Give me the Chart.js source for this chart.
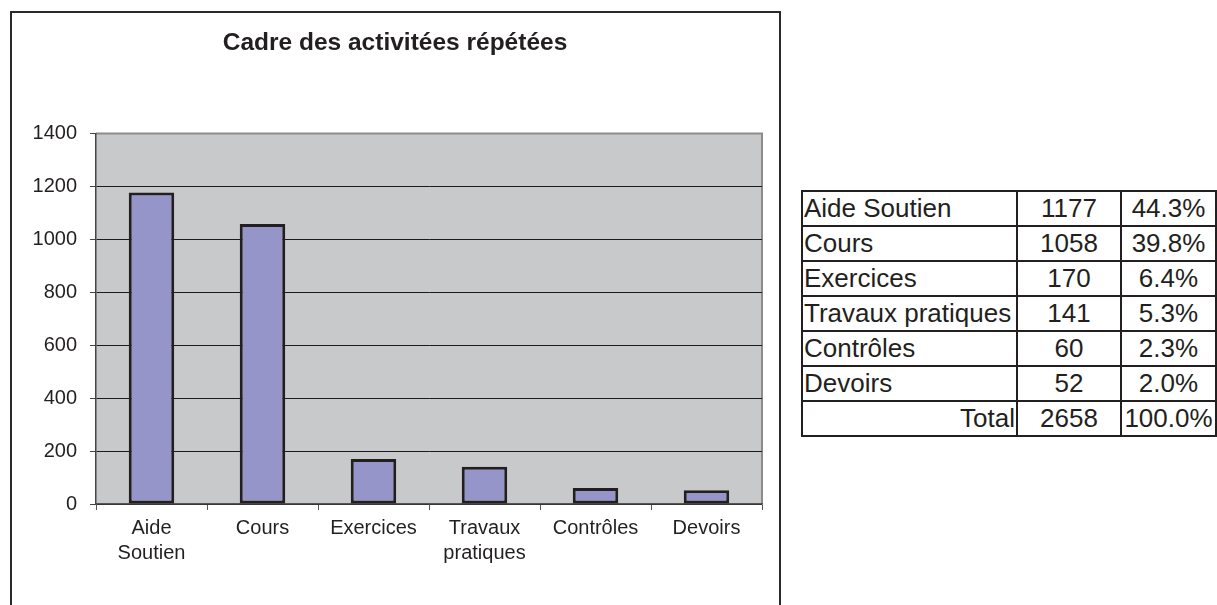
<!DOCTYPE html>
<html lang="fr">
<head>
<meta charset="utf-8">
<title>Cadre des activitées répétées</title>
<script src="https://cdn.jsdelivr.net/npm/chart.js@4.4.1/dist/chart.umd.min.js"></script>
<style>
    html, body { margin: 0; padding: 0; background: #fff; width: 1217px; height: 605px; overflow: hidden; }
    body { position: relative; font-family: "Liberation Sans", Arial, sans-serif; color: #231f20; }
    #chartBox { position: absolute; left: 0; top: 0; width: 790px; height: 605px; }
    #frame { position: absolute; left: 10px; top: 11px; width: 767px; height: 620px; border: 2px solid #2a2a2a; pointer-events: none; }
    #recap { position: absolute; left: 801px; top: 190px; border-collapse: collapse; font-size: 26px; }
    #recap td { border: 2px solid #231f20; height: 33px; padding: 0 1px; line-height: 33px; white-space: nowrap; }
    #recap td.lbl { width: 211px; text-align: left; }
    #recap td.num { width: 100px; text-align: center; }
    #recap td.pct { width: 91px; text-align: center; }
    #recap td.total { text-align: right; }
</style>
</head>
<body>
<div id="chartBox"><canvas id="activityChart" width="790" height="605"></canvas></div>
<div id="frame"></div>
<table id="recap"><tbody></tbody></table>
<script>
const categories = [['Aide', 'Soutien'], 'Cours', 'Exercices', ['Travaux', 'pratiques'], 'Contrôles', 'Devoirs'];
const tableLabels = ['Aide Soutien', 'Cours', 'Exercices', 'Travaux pratiques', 'Contrôles', 'Devoirs'];
const counts = [1177, 1058, 170, 141, 60, 52];
const percents = ['44.3%', '39.8%', '6.4%', '5.3%', '2.3%', '2.0%'];
const totalCount = 2658;
const totalPercent = '100.0%';
const yTicks = [0, 200, 400, 600, 800, 1000, 1200, 1400];

// tableau récapitulatif
const tbody = document.querySelector('#recap tbody');
tableLabels.forEach((label, i) => {
    const tr = document.createElement('tr');
    tr.innerHTML = `<td class="lbl">${label}</td><td class="num">${counts[i]}</td><td class="pct">${percents[i]}</td>`;
    tbody.appendChild(tr);
});
const totalRow = document.createElement('tr');
totalRow.innerHTML = `<td class="lbl total">Total</td><td class="num">${totalCount}</td><td class="pct">${totalPercent}</td>`;
tbody.appendChild(totalRow);

const plotBackground = {
    id: 'plotBackground',
    beforeDraw(chart) {
        const { ctx, chartArea: a } = chart;
        ctx.save();
        ctx.fillStyle = '#c8c9cb';
        ctx.fillRect(a.left, a.top, a.right - a.left, a.bottom - a.top);
        ctx.strokeStyle = '#8c8c8c';
        ctx.lineWidth = 2;
        ctx.beginPath();
        ctx.moveTo(a.left, a.top);
        ctx.lineTo(a.right, a.top);
        ctx.lineTo(a.right, a.bottom);
        ctx.stroke();
        ctx.restore();
    }
};

const font = { family: '"Liberation Sans", Arial, sans-serif', size: 20, lineHeight: 1.25 };

new Chart(document.getElementById('activityChart'), {
    type: 'bar',
    data: {
        labels: categories,
        datasets: [{
            data: counts,
            backgroundColor: '#9595c9',
            borderColor: '#231f20',
            borderWidth: 3,
            borderSkipped: false,
            categoryPercentage: 1,
            barPercentage: 0.41
        }]
    },
    options: {
        responsive: false,
        animation: false,
        layout: { padding: { left: 28, right: 28, top: 0, bottom: 0 } },
        plugins: {
            legend: { display: false },
            tooltip: { enabled: false },
            title: {
                display: true,
                text: 'Cadre des activitées répétées',
                color: '#231f20',
                font: { family: font.family, size: 24.5, weight: 'bold' },
                padding: { top: 29, bottom: 75 }
            }
        },
        scales: {
            x: {
                afterFit: scale => { scale.height = 101; },
                border: { color: '#555', width: 1.5 },
                grid: { offset: true, drawOnChartArea: false, drawTicks: true, tickLength: 6, tickColor: '#555' },
                ticks: { color: '#231f20', font, padding: 6, maxRotation: 0, autoSkip: false }
            },
            y: {
                min: 0,
                max: 1400,
                afterFit: scale => { scale.width = 68; },
                afterBuildTicks: scale => { scale.ticks = yTicks.map(value => ({ value })); },
                border: { color: '#444', width: 1.5 },
                grid: {
                    color: ctx => ctx.tick && ctx.tick.value === 1400 ? 'rgba(0,0,0,0)' : '#1a1a1a',
                    lineWidth: 1,
                    tickLength: 6,
                    tickColor: '#444'
                },
                ticks: { color: '#231f20', font, padding: 13, callback: value => String(value) }
            }
        }
    },
    plugins: [plotBackground]
});
</script>
</body>
</html>
